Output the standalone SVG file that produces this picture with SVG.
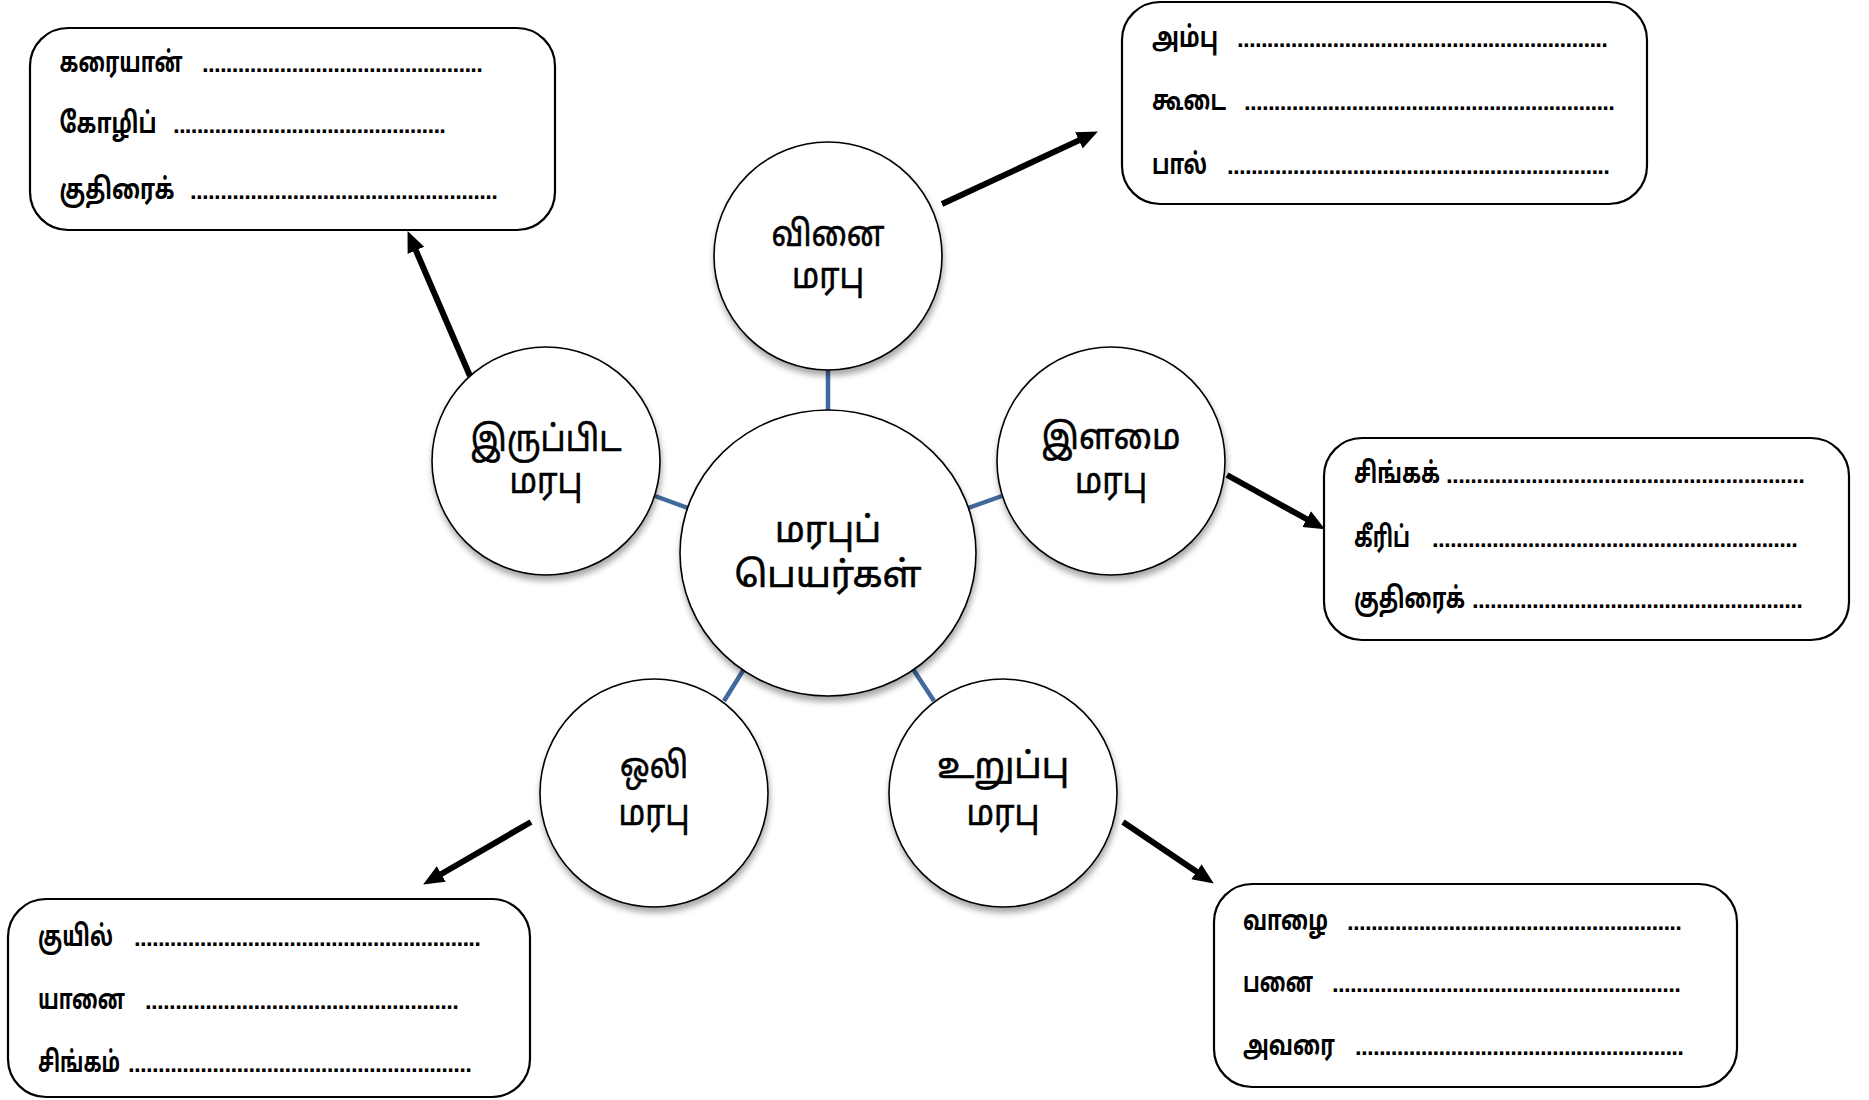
<svg xmlns="http://www.w3.org/2000/svg" width="1869" height="1100" viewBox="0 0 1869 1100">
<style>
.box{fill:#fff;stroke:#000;stroke-width:2.2}
.circ{fill:#fff;stroke:#000;stroke-width:1.6;filter:url(#sh)}
.lbl{font-family:"Noto Sans Tamil","Lohit Tamil","Latha","Noto Sans",sans-serif;font-weight:bold;font-size:29px;fill:#000}
.dots{font-family:"Liberation Sans",Arial,sans-serif;font-weight:bold;font-size:24px;fill:#000}
.ct{font-family:"Noto Sans Tamil","Lohit Tamil","Latha","Noto Sans",sans-serif;font-size:36px;fill:#000;stroke:#000;stroke-width:0.6;text-anchor:middle}
.blue{stroke:#41699c;stroke-width:4.5;fill:none}
.arr{stroke:#000;stroke-width:6;fill:none;marker-end:url(#ah)}
</style>
<defs>
<filter id="sh" x="-20%" y="-20%" width="140%" height="145%">
<feDropShadow dx="1" dy="5" stdDeviation="3" flood-color="#000" flood-opacity="0.35"/>
</filter>
<marker id="ah" markerUnits="userSpaceOnUse" markerWidth="22" markerHeight="20" refX="6" refY="9" orient="auto">
<path d="M0,0 L21,9 L0,18 z" fill="#000"/>
</marker>
</defs>
<rect width="1869" height="1100" fill="#fff"/>

<g id="connectors">
<line class="blue" x1="828" y1="368" x2="828" y2="411"/>
<line class="blue" x1="655" y1="496" x2="688" y2="508"/>
<line class="blue" x1="968" y1="508" x2="1002" y2="496"/>
<line class="blue" x1="724" y1="701" x2="744" y2="669"/>
<line class="blue" x1="913" y1="669" x2="934" y2="701"/>
<path class="arr" d="M942,204 L1084.3,137.9"/>
<path class="arr" d="M470,376 L413.5,244.9"/>
<path class="arr" d="M1227,475 L1311.9,522"/>
<path class="arr" d="M531,822 L436.1,877"/>
<path class="arr" d="M1123,822 L1201.4,875.1"/>
</g>

<g id="node-center">
<ellipse class="circ" cx="828" cy="553" rx="148" ry="143"/>
<text class="ct" x="828" y="542" textLength="106" lengthAdjust="spacingAndGlyphs">மரபுப்</text>
<text class="ct" x="828" y="587" textLength="187" lengthAdjust="spacingAndGlyphs">பெயர்கள்</text>
</g>

<g id="node-vinai">
<circle class="circ" cx="828" cy="256" r="114"/>
<text class="ct" x="828" y="246" textLength="113" lengthAdjust="spacingAndGlyphs">வினை</text>
<text class="ct" x="828" y="288" textLength="72" lengthAdjust="spacingAndGlyphs">மரபு</text>
</g>

<g id="node-iruppida">
<circle class="circ" cx="546" cy="461" r="114"/>
<text class="ct" x="546" y="451" textLength="151" lengthAdjust="spacingAndGlyphs">இருப்பிட</text>
<text class="ct" x="546" y="493" textLength="73" lengthAdjust="spacingAndGlyphs">மரபு</text>
</g>

<g id="node-ilamai">
<circle class="circ" cx="1111" cy="461" r="114"/>
<text class="ct" x="1111" y="449" textLength="139" lengthAdjust="spacingAndGlyphs">இளமை</text>
<text class="ct" x="1111" y="493" textLength="72" lengthAdjust="spacingAndGlyphs">மரபு</text>
</g>

<g id="node-oli">
<circle class="circ" cx="654" cy="793" r="114"/>
<text class="ct" x="654" y="778" textLength="68" lengthAdjust="spacingAndGlyphs">ஒலி</text>
<text class="ct" x="654" y="825" textLength="71" lengthAdjust="spacingAndGlyphs">மரபு</text>
</g>

<g id="node-uruppu">
<circle class="circ" cx="1003" cy="793" r="114"/>
<text class="ct" x="1003" y="778" textLength="132" lengthAdjust="spacingAndGlyphs">உறுப்பு</text>
<text class="ct" x="1003" y="825" textLength="73" lengthAdjust="spacingAndGlyphs">மரபு</text>
</g>

<g id="box-tl">
<rect class="box" x="30" y="28" width="525" height="202" rx="38" ry="38"/>
<text class="lbl" y="72"><tspan x="59.5" textLength="123" lengthAdjust="spacingAndGlyphs">கரையான்</tspan><tspan class="dots" x="202" textLength="281" lengthAdjust="spacing">...............................................</tspan></text>
<text class="lbl" y="133"><tspan x="59.5" textLength="97" lengthAdjust="spacingAndGlyphs">கோழிப்</tspan><tspan class="dots" x="173" textLength="273" lengthAdjust="spacing">..............................................</tspan></text>
<text class="lbl" y="199"><tspan x="59.5" textLength="115" lengthAdjust="spacingAndGlyphs">குதிரைக்</tspan><tspan class="dots" x="190" textLength="308" lengthAdjust="spacing">...................................................</tspan></text>
</g>

<g id="box-tr">
<rect class="box" x="1122" y="2" width="525" height="202" rx="38" ry="38"/>
<text class="lbl" y="47"><tspan x="1152" textLength="66" lengthAdjust="spacingAndGlyphs">அம்பு</tspan><tspan class="dots" x="1237" textLength="371" lengthAdjust="spacing">..............................................................</tspan></text>
<text class="lbl" y="110"><tspan x="1152" textLength="74" lengthAdjust="spacingAndGlyphs">கூடை</tspan><tspan class="dots" x="1244" textLength="371" lengthAdjust="spacing">..............................................................</tspan></text>
<text class="lbl" y="174"><tspan x="1152" textLength="55" lengthAdjust="spacingAndGlyphs">பால்</tspan><tspan class="dots" x="1227" textLength="383" lengthAdjust="spacing">................................................................</tspan></text>
</g>

<g id="box-rm">
<rect class="box" x="1324" y="438" width="525" height="202" rx="38" ry="38"/>
<text class="lbl" y="483"><tspan x="1354" textLength="86" lengthAdjust="spacingAndGlyphs">சிங்கக்</tspan><tspan class="dots" x="1446" textLength="359" lengthAdjust="spacing">...........................................................</tspan></text>
<text class="lbl" y="547"><tspan x="1354" textLength="56" lengthAdjust="spacingAndGlyphs">கீரிப்</tspan><tspan class="dots" x="1432" textLength="366" lengthAdjust="spacing">.............................................................</tspan></text>
<text class="lbl" y="608"><tspan x="1354" textLength="111" lengthAdjust="spacingAndGlyphs">குதிரைக்</tspan><tspan class="dots" x="1472" textLength="331" lengthAdjust="spacing">.......................................................</tspan></text>
</g>

<g id="box-bl">
<rect class="box" x="8" y="899" width="522" height="198" rx="38" ry="38"/>
<text class="lbl" y="946"><tspan x="38" textLength="75" lengthAdjust="spacingAndGlyphs">குயில்</tspan><tspan class="dots" x="134" textLength="347" lengthAdjust="spacing">..........................................................</tspan></text>
<text class="lbl" y="1009"><tspan x="38" textLength="87" lengthAdjust="spacingAndGlyphs">யானை</tspan><tspan class="dots" x="145" textLength="314" lengthAdjust="spacing">....................................................</tspan></text>
<text class="lbl" y="1072"><tspan x="38" textLength="82" lengthAdjust="spacingAndGlyphs">சிங்கம்</tspan><tspan class="dots" x="128" textLength="344" lengthAdjust="spacing">.........................................................</tspan></text>
</g>

<g id="box-br">
<rect class="box" x="1214" y="884" width="523" height="203" rx="38" ry="38"/>
<text class="lbl" y="930"><tspan x="1243" textLength="85" lengthAdjust="spacingAndGlyphs">வாழை</tspan><tspan class="dots" x="1347" textLength="335" lengthAdjust="spacing">........................................................</tspan></text>
<text class="lbl" y="992"><tspan x="1243" textLength="70" lengthAdjust="spacingAndGlyphs">பனை</tspan><tspan class="dots" x="1332" textLength="349" lengthAdjust="spacing">..........................................................</tspan></text>
<text class="lbl" y="1055"><tspan x="1243" textLength="92" lengthAdjust="spacingAndGlyphs">அவரை</tspan><tspan class="dots" x="1355" textLength="329" lengthAdjust="spacing">.......................................................</tspan></text>
</g>
</svg>
